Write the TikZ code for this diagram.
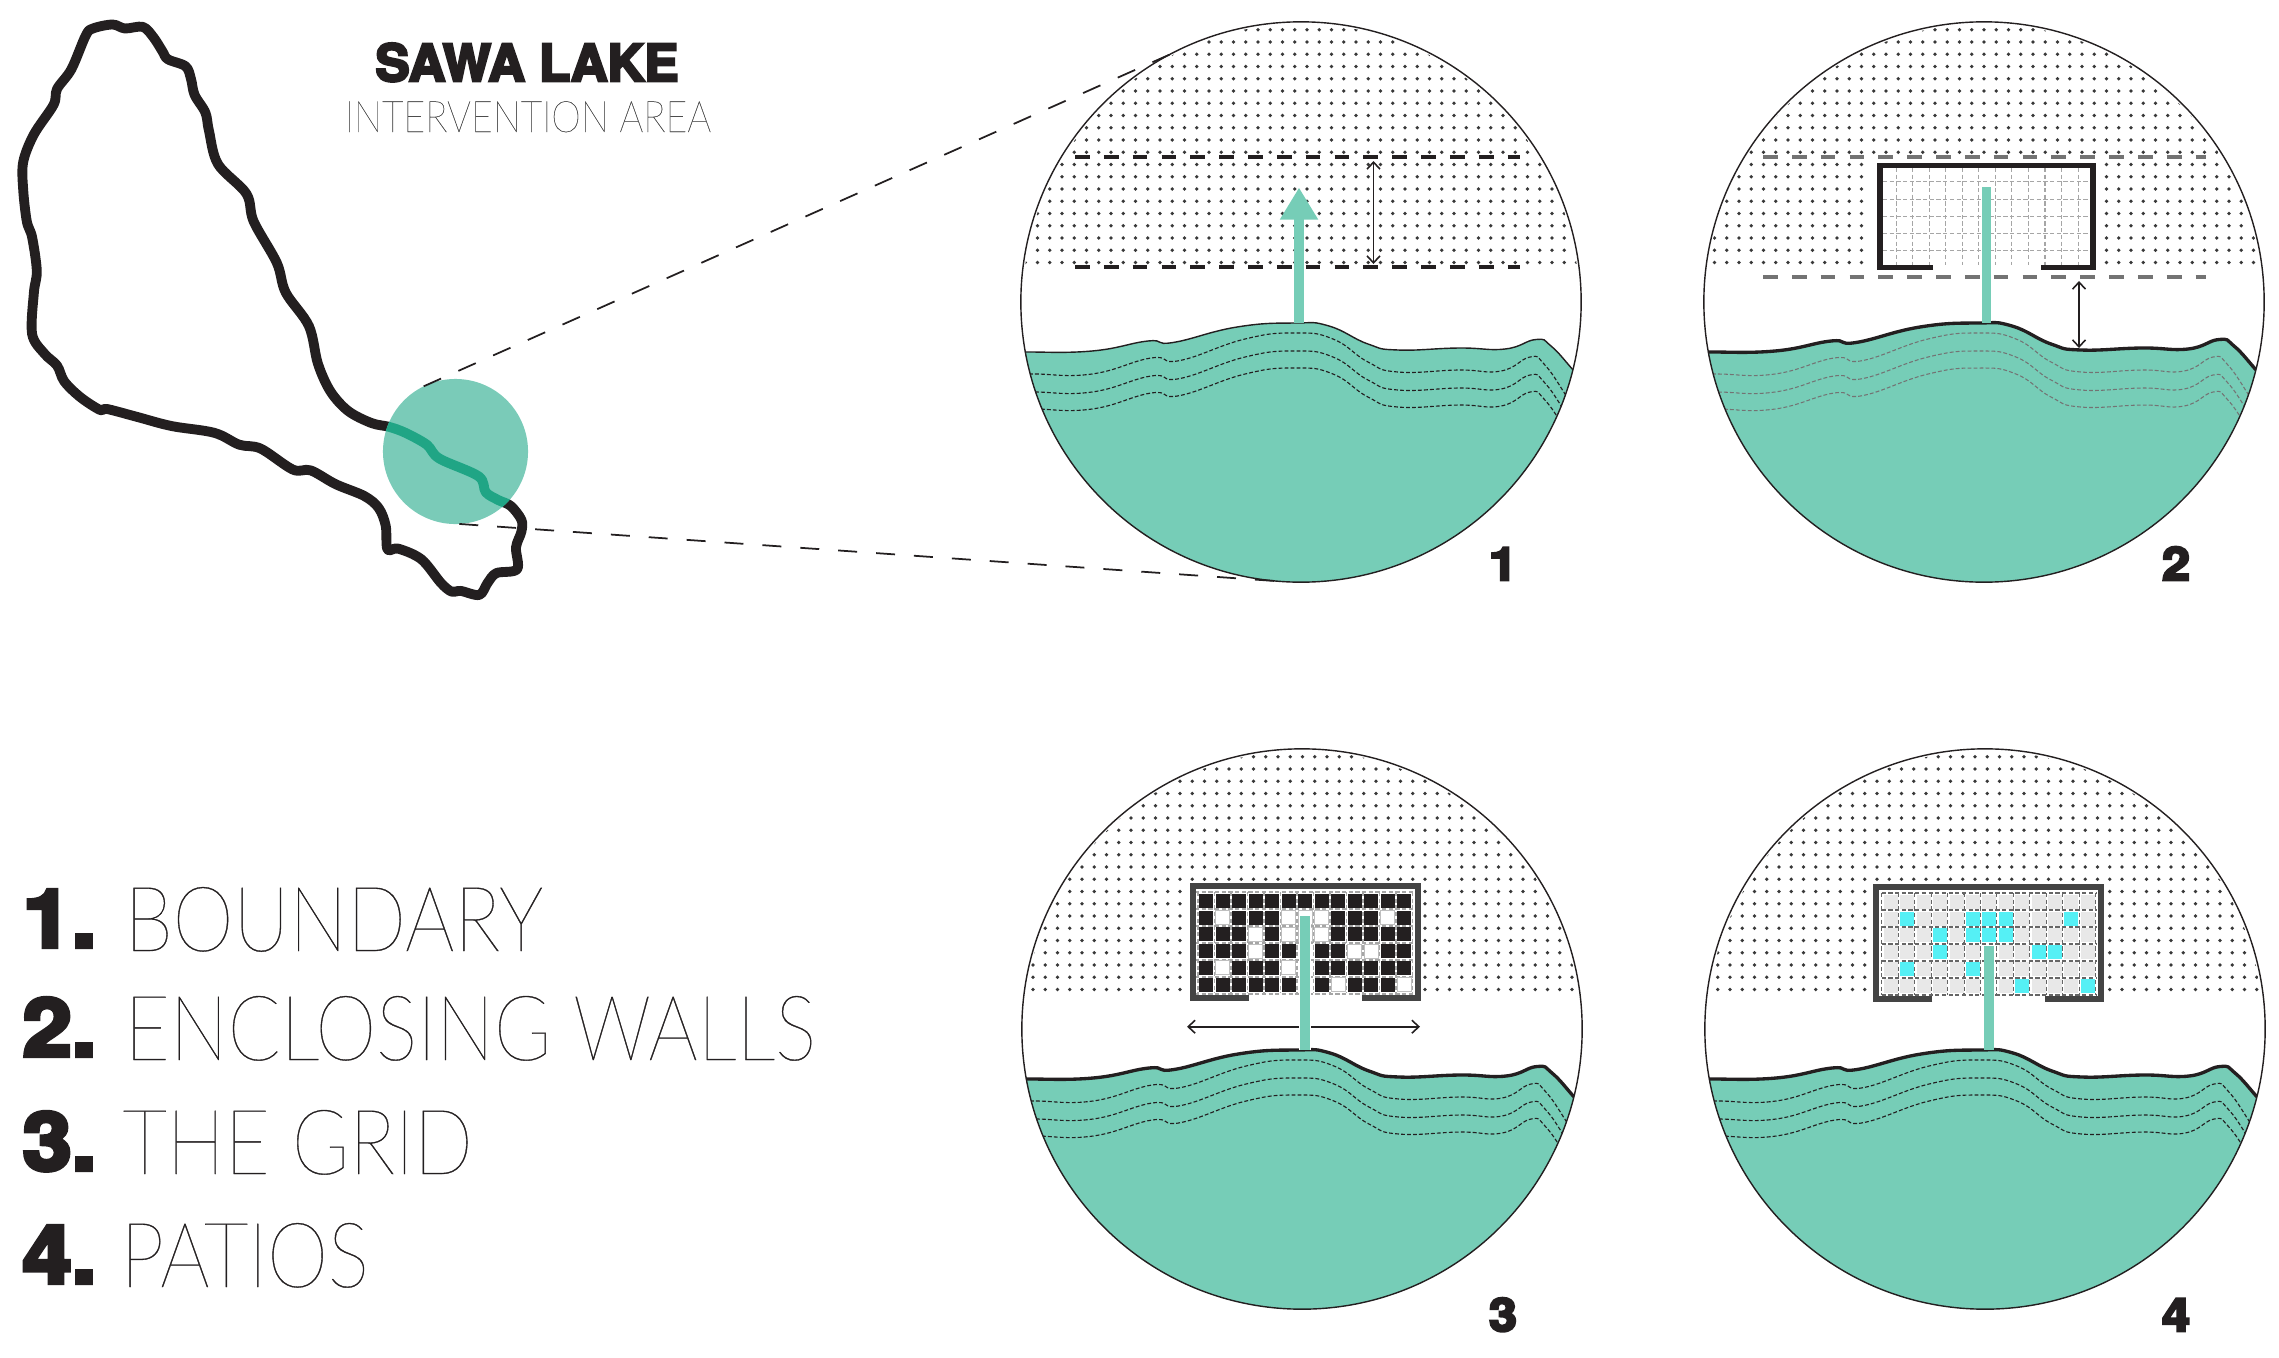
\documentclass[tikz,border=0pt]{standalone}
\usepackage{fontspec}
\usetikzlibrary{arrows.meta}
\newfontfamily\heavyfont[FakeBold=5.5,FakeStretch=1.1]{TeX Gyre Heros}
\newfontfamily\titlefont[FakeBold=5,FakeStretch=1]{TeX Gyre Heros}
\newfontfamily\hairfont[FakeBold=0.4,FakeStretch=0.857]{Lato Thin}
\newfontfamily\titlehair[FakeBold=0.2,FakeStretch=0.86]{Lato Thin}
\definecolor{lakegreen}{HTML}{76CDB7}
\definecolor{spotgreen}{HTML}{7ACBB8}
\definecolor{deepgreen}{HTML}{20A585}
\definecolor{inkblack}{HTML}{231F20}
\definecolor{wallgrey}{HTML}{444444}
\definecolor{dotgrey}{HTML}{383838}
\definecolor{patiocyan}{HTML}{55F0F5}

\begin{document}
\begin{tikzpicture}[
    x=0.01cm, y=-0.01cm,
    lens/.style={circle, draw=inkblack, line width=0.4pt, minimum size=5.6cm, inner sep=0pt, outer sep=0pt},
    spot/.style={circle, fill=spotgreen, minimum size=1.45cm, inner sep=0pt, outer sep=0pt},
    leader/.style={draw=inkblack, line width=0.5pt, dash pattern=on 5.4pt off 5.4pt},
    coast/.style={draw=inkblack, line width=2.8pt, line join=round},
    shoreThin/.style={draw=inkblack, line width=0.4pt},
    shoreBold/.style={draw=inkblack, line width=0.95pt},
    contourDark/.style={draw=inkblack, line width=0.32pt, dash pattern=on 1.1pt off 0.6pt},
    contourPale/.style={draw=black!55, line width=0.3pt, dash pattern=on 1.1pt off 0.6pt},
    limitDark/.style={draw=inkblack, line width=1.1pt, dash pattern=on 4.2pt off 4pt},
    limitGrey/.style={draw=black!55, line width=1.15pt, dash pattern=on 4.2pt off 4pt},
    span/.style={{Straight Barb[length=0.7mm,width=1.3mm]}-{Straight Barb[length=0.7mm,width=1.3mm]}, draw=inkblack, line width=0.45pt},
    shaft/.style={draw=lakegreen, line width=2.6pt},
    wall/.style={draw=inkblack, line width=1.7pt, miter limit=10},
    gridline/.style={draw=black!35, line width=0.3pt, dash pattern=on 1.2pt off 0.7pt},
    cellB/.style={fill=inkblack},
    cellW/.style={fill=white, draw=black!25, line width=0.35pt},
    cellG/.style={fill=black!9},
    cellC/.style={fill=patiocyan},
    cellN/.style={},
    title/.style={inner sep=0pt, anchor=base, font=\titlefont\bfseries\fontsize{14.5}{16}\selectfont, text=inkblack},
    subtitle/.style={inner sep=0pt, anchor=base, font=\titlehair\fontsize{12.4}{14}\selectfont, text=black!70},
    legendnum/.style={inner sep=0pt, anchor=base east, font=\heavyfont\bfseries\fontsize{22.8}{24}\selectfont, text=inkblack},
    legendtext/.style={inner sep=0pt, anchor=base west, font=\hairfont\fontsize{25.7}{27}\selectfont, text=inkblack},
    tag/.style={inner sep=0pt, anchor=base, font=\heavyfont\bfseries\fontsize{13}{14}\selectfont, text=inkblack}
]
\useasboundingbox (0,0) rectangle (2279,1357);

% Outlines used more than once
\def\lakeline{plot[smooth cycle, tension=0.55] coordinates {(92.9,28.5) (112.5,24.5) (125,28.5) (142.9,26.9) (153.6,37.5) (162.5,51.4) (167.9,59.3) (185.7,66.4) (191,79) (194.6,94.9) (205.4,112.6) (208.9,130.4) (217.9,164) (246.4,193.7) (253.6,221.3) (276.8,262.8) (285.7,292.5) (308.9,326) (317.9,363.6) (330.4,391.3) (348.2,411) (371.4,423) (389.3,426.9) (405.4,432.8) (426.8,444.7) (439.3,458.5) (478.6,476.3) (485.7,492.1) (498.2,500) (510.7,505.9) (521.4,519.8) (521.4,531.6) (516,547.4) (517.1,569.2) (496.4,573.1) (487.5,583) (479.3,594.9) (460.7,590.9) (451.8,591.7) (441,583) (421.4,559.3) (398.2,548.6) (387.5,549.4) (385.7,525.7) (378.6,507.9) (364.3,496) (335.7,484.2) (310.7,470.4) (292.9,469.6) (260.7,448.6) (239.3,444.7) (214.3,432.8) (171.4,426) (137.5,417) (107.1,409) (100,409.9) (80.4,397.2) (64.3,381.4) (57.1,365.6) (44.6,353.8) (32.1,334) (33.9,292.5) (36.8,270.8) (32.1,237.2) (26.8,221.3) (23.2,189.7) (23.2,162) (33.9,134.4) (53.6,104.7) (57.1,88.9) (71.4,69.2) (85.7,35.6)}}
\def\shoreline{plot[smooth, tension=0.8] coordinates {(-290,50) (-276,50) (-209,49) (-153,39) (-128,40.5) (-64,25) (-6,21) (28,24) (67,42) (97,48) (158,46) (204,47) (235,37.5) (250,44) (273,69) (290,88)}}
\def\contourline{plot[smooth, tension=0.8] coordinates {(-290,72) (-266,72) (-209,72) (-150,56) (-121,58.5) (-56,37) (-6,31) (32,37) (67,60) (97,70) (158,68) (200,69) (229,55) (243,62) (264,92) (280,120)}}

% Lake outline and the marked zone
\draw[coast] \lakeline;
\node[spot] (zone) at (455.5,451.5) {};
\begin{scope}
    \clip (zone) circle (0.725cm);
    \draw[coast, draw=deepgreen] \lakeline;
\end{scope}

% Title
\node[title] (lakeName) at (527,81) {SAWA LAKE};
\node[subtitle] (lakeArea) at (528,132) {INTERVENTION AREA};

% Legend
\foreach \n/\word/\base/\start in {1/BOUNDARY/947/124, 2/ENCLOSING WALLS/1056/124, 3/THE GRID/1170/122, 4/PATIOS/1283/120} {
    \node[legendnum] (legendNum\n) at (97,\base) {\n.};
    \node[legendtext] (legendWord\n) at (\start,\base+4) {\word};
}

% The four lenses: dots, water, contours
\foreach \n/\cx/\cy/\phase/\shoreStyle/\contourStyle in {
    1/1301/302/-6.3/shoreThin/contourDark,
    2/1984/302/0/shoreBold/contourPale,
    3/1302/1029/0.5/shoreBold/contourDark,
    4/1985/1029/2.2/shoreBold/contourDark} {
    \begin{scope}[shift={(\cx,\cy)}]
        \begin{scope}
            \clip (0,0) circle (2.78cm);
            \foreach \k in {0,...,19} {
                \foreach \j in {-23,...,23} {
                    \fill[dotgrey] ({\phase+\j*12.25},{-39.5-\k*12.25}) circle (0.018cm);
                }
            }
        \end{scope}
        \begin{scope}
            \clip (0,0) circle (2.8cm);
            \fill[lakegreen] \shoreline -- (300,300) -- (-300,300) -- cycle;
            \foreach \drop in {0,-0.18,-0.35} {
                \draw[\contourStyle, yshift=\drop cm] \contourline;
            }
            \draw[\shoreStyle] \shoreline;
        \end{scope}
        \node[lens] (lens\n) at (0,0) {};
    \end{scope}
}

% Leader lines from the zone to lens 1
\draw[leader] (zone.116) -- (lens1.118);
\draw[leader] (zone.-87) -- (lens1.-95);

% Lens 1: boundary
\foreach \y in {157,267} {
    \draw[limitDark] (1075,\y) -- (1520,\y);
}
\coordinate (reachTop) at (1373.5,161);
\coordinate (reachBottom) at (1373.5,264);
\draw[span] (reachTop) -- (reachBottom);
\coordinate (accessFoot) at (1299,323);
\coordinate (accessTip) at (1299,187.5);
\draw[shaft, -{Triangle[length=3.2mm,width=3.6mm]}] (accessFoot) -- (accessTip);

% Lens 2: enclosing walls
\fill[white] (1868,159) rectangle (2100,272);
\foreach \x in {0,...,11} {
    \draw[gridline] ({1896+\x*16.55},168) -- ({1896+\x*16.55},265);
}
\foreach \y in {181.7,199.3,216.3,233.3,250.7} {
    \draw[gridline] (1883,\y) -- (2088,\y);
}
\draw[wall] (1933,267.5) -| (1880,165.5) -| (2093,267.5) -- (2041,267.5);
\foreach \y in {156.7,276.7} {
    \draw[limitGrey] (1763,\y) -- (2206,\y);
}
\coordinate (setbackTop) at (2079,281);
\coordinate (setbackBottom) at (2079,348);
\draw[span] (setbackTop) -- (setbackBottom);
\coordinate (pathFootB) at (1986.7,323);
\coordinate (pathTopB) at (1986.7,187);
\draw[shaft] (pathFootB) -- (pathTopB);

% Lens 3: the grid
\fill[white] (1186,881) rectangle (1421,1003);
\foreach \x in {0,...,13} {
    \draw[gridline] ({1198+\x*16.5},892) -- ({1198+\x*16.5},993);
}
\foreach \y in {0,...,6} {
    \draw[gridline] (1195,{892+\y*17}) -- (1415,{892+\y*17});
}
\foreach \cells [count=\row] in {
    {B,B,B,B,B,B,B,B,B,B,B,B,B},
    {B,W,B,B,B,W,W,W,B,B,B,W,B},
    {B,B,B,W,B,W,W,W,B,B,B,B,B},
    {B,B,B,W,B,B,N,B,B,W,W,B,B},
    {B,W,B,B,B,W,N,B,B,B,B,B,B},
    {B,B,B,B,B,B,N,B,W,B,B,B,W}} {
    \foreach \c [count=\col] in \cells {
        \path[cell\c] ({1199.3+(\col-1)*16.5},{894+(\row-1)*16.7}) rectangle ++(14,14);
    }
}
\draw[wall, draw=wallgrey] (1249,998) -| (1192.7,886) -| (1417.7,998) -- (1362,998);
\coordinate (spanLeft) at (1187,1026.7);
\coordinate (spanRight) at (1420,1026.7);
\draw[span] (spanLeft) -- (spanRight);
\coordinate (pathFootC) at (1305,1050);
\coordinate (pathTopC) at (1305,916);
\draw[draw=white, line width=3.3pt] (pathFootC) -- (pathTopC);
\draw[shaft] (pathFootC) -- (pathTopC);

% Lens 4: patios
\fill[white] (1870,882) rectangle (2107,1003);
\foreach \x in {0,...,13} {
    \draw[gridline, draw=black!60] ({1881.7+\x*16.45},893) -- ({1881.7+\x*16.45},995);
}
\foreach \y in {0,...,6} {
    \draw[gridline, draw=black!60] (1881.7,{893+\y*17}) -- (2095.7,{893+\y*17});
}
\foreach \cells [count=\row] in {
    {G,G,G,G,G,G,G,G,G,G,G,G,G},
    {G,C,G,G,G,C,C,C,G,G,G,C,G},
    {G,G,G,C,G,C,C,C,G,G,G,G,G},
    {G,G,G,C,G,G,N,G,G,C,C,G,G},
    {G,C,G,G,G,C,N,G,G,G,G,G,G},
    {G,G,G,G,G,G,N,G,C,G,G,G,C}} {
    \foreach \c [count=\col] in \cells {
        \path[cell\c] ({1884+(\col-1)*16.4},{895+(\row-1)*16.7}) rectangle ++(14,14);
    }
}
\draw[wall, draw=wallgrey] (1932.3,999) -| (1876,887.3) -| (2101,999) -- (2045.3,999);
\coordinate (pathFootD) at (1989,1050);
\coordinate (pathTopD) at (1989,946);
\draw[shaft] (pathFootD) -- (pathTopD);

% Lens numbers
\foreach \n/\x/\y in {1/1503/580, 2/2176/580, 3/1503/1331, 4/2176/1331} {
    \node[tag] (tag\n) at (\x,\y) {\n};
}

\end{tikzpicture}
\end{document}
